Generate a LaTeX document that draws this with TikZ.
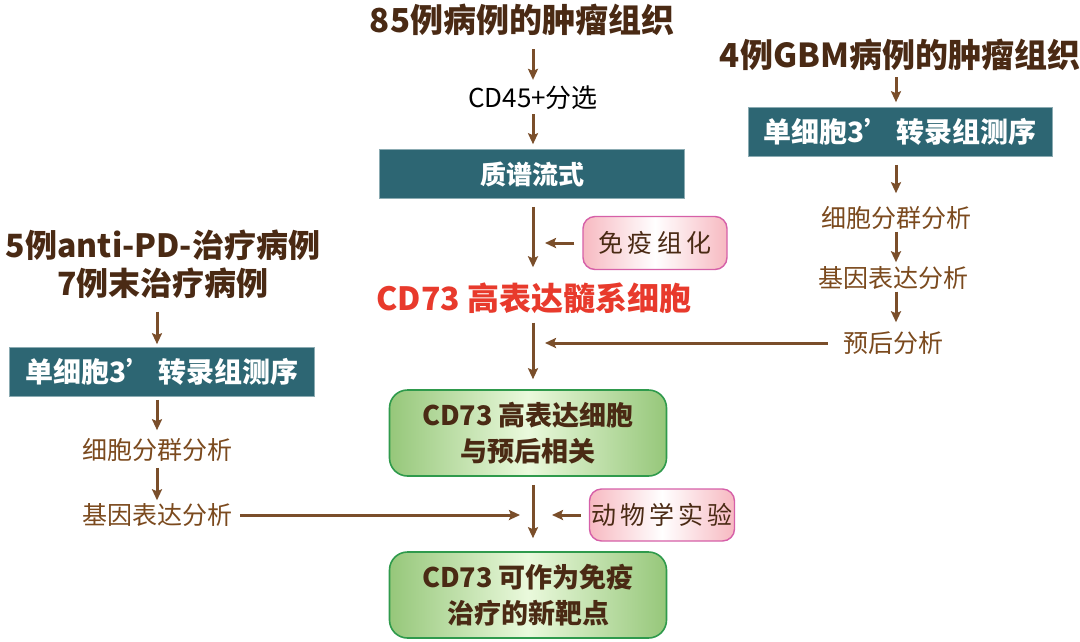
\documentclass[tikz,border=0pt]{standalone}
\usepackage{fontspec}
\setmainfont{Noto Sans CJK SC}
\usetikzlibrary{arrows.meta}
\definecolor{brn}{HTML}{7A4E2A}
\definecolor{dbrn}{HTML}{4A2A14}
\definecolor{tbrn}{HTML}{7B4A1E}
\definecolor{teal1}{HTML}{2D6673}
\definecolor{redt}{HTML}{E83A2C}
\definecolor{gfill}{HTML}{96C77A}
\definecolor{gmid}{HTML}{EAF9DC}
\definecolor{gbord}{HTML}{2F9A4C}
\definecolor{pfill}{HTML}{F7B9C1}
\definecolor{pbord}{HTML}{D660A8}
\tikzset{
  arr/.style={draw=brn, line width=3pt, -{Stealth[length=11pt,width=10pt,inset=2pt]}},
  titletext/.style={inner sep=0pt, text=dbrn, font=\bfseries\fontsize{33}{38}\selectfont},
  subtext/.style={inner sep=0pt, text=tbrn, font=\fontsize{25}{28}\selectfont},
  tealbox/.style={fill=teal1, draw=teal1!55!white, line width=0.6pt, text=white, inner sep=0pt,
    minimum height=49pt, font=\bfseries\fontsize{28}{30}\selectfont},
  greenbox/.style={rounded corners=18pt, draw=gbord, line width=1.6pt, left color=gfill, right color=gfill,
    middle color=gmid, text=dbrn, align=center, inner sep=0pt, minimum width=277pt, minimum height=86pt,
    font=\bfseries\fontsize{27}{36}\selectfont},
  pinkbox/.style={rounded corners=12pt, draw=pbord, line width=1.4pt, left color=pfill, right color=pfill,
    middle color=white, text=dbrn, inner sep=0pt, font=\fontsize{25}{28}\selectfont},
}
\begin{document}
\begin{tikzpicture}[x=1pt,y=-1pt]
\useasboundingbox (0,0) rectangle (1080,641);
\fill[white] (0,0) rectangle (1080,641);
% centre column
\node[titletext] (t1) at (522,20) {85例病例的肿瘤组织};
\node[inner sep=0pt, text=black, font=\fontsize{26}{28}\selectfont] (cd45) at (533,98) {CD45+分选};
\node[tealbox, minimum width=305pt, font=\bfseries\fontsize{26}{28}\selectfont] (ms) at (532,174) {质谱流式};
\node[pinkbox, minimum width=144pt, minimum height=53pt] (ihc) at (655,243) {免\,疫\,组\,化};
\node[inner sep=0pt, text=redt, font=\bfseries\fontsize{32}{34}\selectfont] (cd73) at (534,298) {CD73 高表达髓系细胞};
\node[greenbox] (g1) at (528,433) {CD73 高表达细胞\\与预后相关};
\node[pinkbox, minimum width=145pt, minimum height=52pt] (ani) at (662,515) {动\,物\,学\,实\,验};
\node[greenbox] (g2) at (528,595) {CD73 可作为免疫\\治疗的新靶点};
% right column
\node[titletext] (t2) at (900,55) {4例GBM病例的肿瘤组织};
\node[tealbox, minimum width=304pt] (sc2) at (900,132) {单细胞3’\,转录组测序};
\node[subtext] (cl2) at (896,218) {细胞分群分析};
\node[subtext] (ge2) at (893,278) {基因表达分析};
\node[subtext] (pr2) at (893,343) {预后分析};
% left column
\node[titletext, align=center, font=\bfseries\fontsize{32}{38}\selectfont] (t3) at (163,264) {5例anti-PD-治疗病例\\7例末治疗病例};
\node[tealbox, minimum width=305pt] (sc1) at (162,372) {单细胞3’\,转录组测序};
\node[subtext] (cl1) at (157,450) {细胞分群分析};
\node[subtext] (ge1) at (157,515) {基因表达分析};
% junction points on the main line
\coordinate (j1) at (cd45.center |- ihc.west);
\coordinate (j2) at (cd45.center |- pr2.west);
\coordinate (j3) at (cd45.center |- ani.west);
% centre arrows
\draw[arr, shorten <=13pt, shorten >=6pt] (cd45.north |- t1.south) -- (cd45.north);
\draw[arr, shorten <=4pt, shorten >=5pt] (cd45.south) -- (cd45.south |- ms.north);
\draw[arr, shorten <=8pt, shorten >=15pt] (cd45.south |- ms.south) -- (cd45.south |- cd73.north);
\draw[arr, shorten <=8pt, shorten >=12pt] (ihc.west) -- (j1);
\draw[arr, shorten <=9pt, shorten >=10pt] (cd45.south |- cd73.south) -- (cd45.south |- g1.north);
\draw[arr, shorten <=15pt, shorten >=12pt] (pr2.west) -- (j2);
\draw[arr, shorten <=8pt, shorten >=13pt] (cd45.south |- g1.south) -- (cd45.south |- g2.north);
\draw[arr, shorten <=8pt, shorten >=13pt] (ge1.east) -- (j3);
\draw[arr, shorten <=8pt, shorten >=19pt] (ani.west) -- (j3);
% right arrows
\draw[arr, shorten <=6pt, shorten >=5pt] (cl2.north |- t2.south) -- (cl2.north |- sc2.north);
\draw[arr, shorten <=8pt, shorten >=13pt] (cl2.north |- sc2.south) -- (cl2.north);
\draw[arr, shorten <=2pt, shorten >=4pt] (cl2.south) -- (cl2.south |- ge2.north);
\draw[arr, shorten <=2pt, shorten >=9pt] (cl2.south |- ge2.south) -- (cl2.south |- pr2.north);
% left arrows
\draw[arr, shorten <=13pt, shorten >=3pt] (cl1.north |- t3.south) -- (cl1.north |- sc1.north);
\draw[arr, shorten <=3pt, shorten >=8pt] (cl1.north |- sc1.south) -- (cl1.north);
\draw[arr, shorten <=6pt, shorten >=3pt] (cl1.south) -- (ge1.north);
\end{tikzpicture}
\end{document}
